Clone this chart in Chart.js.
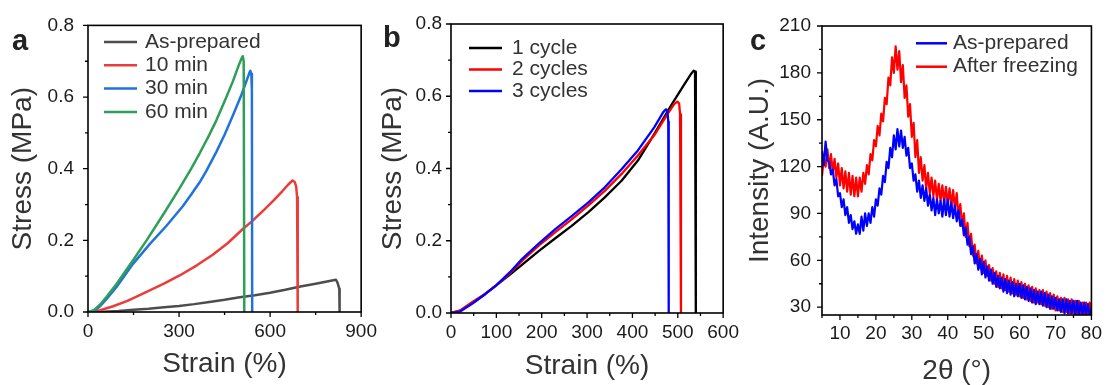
<!DOCTYPE html>
<html><head><meta charset="utf-8">
<script src="https://cdn.jsdelivr.net/npm/chart.js@4.4.1/dist/chart.umd.min.js"></script>
<style>
html,body{margin:0;padding:0;background:#fff;overflow:hidden;width:1109px;height:385px;position:relative;}
canvas{position:absolute;top:0;}
</style></head><body>
<canvas id="ca" width="385" height="385" style="left:0px"></canvas>
<canvas id="cb" width="375" height="385" style="left:372px"></canvas>
<canvas id="cc" width="369" height="392" style="left:740px"></canvas>
<script>
// ---------- Panel a: tensile curves vs freezing time ----------
const aSeriesNames = ['As-prepared', '10 min', '30 min', '60 min'];
const aAsPreparedX = [0, 50, 100, 150, 200, 250, 300, 350, 400, 450, 500, 550, 600, 650, 700, 750, 800, 817, 822, 828, 829];
const aAsPreparedY = [0, 0.001, 0.003, 0.006, 0.009, 0.013, 0.017, 0.022, 0.028, 0.034, 0.041, 0.047, 0.054, 0.062, 0.071, 0.079, 0.087, 0.090, 0.082, 0.065, 0];
const a10minX = [0, 15, 40, 83, 130, 193, 250, 302, 360, 411, 460, 512, 540, 580, 610, 640, 660, 674, 681, 686, 689, 691, 691];
const a10minY = [0, 0, 0.005, 0.016, 0.031, 0.056, 0.079, 0.102, 0.131, 0.160, 0.192, 0.233, 0.253, 0.285, 0.310, 0.337, 0.356, 0.367, 0.363, 0.350, 0.320, 0.290, 0];
const a30minX = [0, 10, 25, 40, 60, 94, 149, 204, 258, 313, 340, 368, 390, 423, 450, 477, 505, 520, 532, 535, 538, 540, 541];
const a30minY = [0, 0, 0.006, 0.016, 0.035, 0.070, 0.135, 0.190, 0.240, 0.296, 0.328, 0.362, 0.394, 0.447, 0.495, 0.548, 0.605, 0.640, 0.668, 0.673, 0.665, 0.620, 0];
const a60minX = [0, 5, 20, 40, 60, 94, 149, 193, 250, 300, 340, 368, 400, 423, 455, 477, 495, 505, 510, 513, 515];
const a60minY = [0, 0, 0.006, 0.021, 0.041, 0.078, 0.145, 0.200, 0.275, 0.343, 0.400, 0.443, 0.495, 0.535, 0.598, 0.643, 0.685, 0.706, 0.714, 0.700, 0];
const aXTicks = [0, 300, 600, 900];
const aXLabels = ['0', '300', '600', '900'];
const aXMinor = [150, 450, 750];
const aYTicks = [0, 0.2, 0.4, 0.6, 0.8];
const aYLabels = ['0.0', '0.2', '0.4', '0.6', '0.8'];
const aYMinor = [0.1, 0.3, 0.5, 0.7];

// ---------- Panel b: cycles ----------
const bSeriesNames = ['1 cycle', '2 cycles', '3 cycles'];
const b1X = [0, 20, 48, 75, 99, 130, 157, 194, 230, 266, 303, 339, 376, 412, 448, 485, 514, 530, 535, 538, 539.5, 540];
const b1Y = [0, 0.006, 0.028, 0.052, 0.076, 0.106, 0.134, 0.172, 0.207, 0.241, 0.279, 0.320, 0.366, 0.422, 0.495, 0.574, 0.632, 0.663, 0.671, 0.668, 0.640, 0];
const b2X = [0, 20, 48, 75, 99, 130, 157, 194, 230, 266, 303, 339, 376, 412, 448, 478, 492, 499, 503, 505, 507];
const b2Y = [0, 0.007, 0.031, 0.053, 0.076, 0.110, 0.145, 0.187, 0.224, 0.259, 0.298, 0.338, 0.385, 0.436, 0.492, 0.552, 0.578, 0.585, 0.580, 0.550, 0];
const b3X = [0, 20, 48, 75, 99, 130, 157, 194, 230, 266, 303, 339, 376, 412, 448, 468, 474, 477, 479, 480];
const b3Y = [0, 0.004, 0.027, 0.052, 0.076, 0.113, 0.150, 0.193, 0.232, 0.268, 0.306, 0.348, 0.398, 0.450, 0.514, 0.556, 0.564, 0.560, 0.530, 0];
const bXTicks = [0, 100, 200, 300, 400, 500, 600];
const bXLabels = ['0', '100', '200', '300', '400', '500', '600'];
const bXMinor = [50, 150, 250, 350, 450, 550];
const bYTicks = [0, 0.2, 0.4, 0.6, 0.8];
const bYLabels = ['0.0', '0.2', '0.4', '0.6', '0.8'];
const bYMinor = [0.1, 0.3, 0.5, 0.7];

// ---------- Panel c: XRD ----------
const cSeriesNames = ['As-prepared', 'After freezing'];
const cAngles = [
  5, 5.5, 6, 6.5, 7, 7.5, 8, 8.5, 9, 9.5,
  10, 10.5, 11, 11.5, 12, 12.5, 13, 13.5, 14, 14.5,
  15, 15.5, 16, 16.5, 17, 17.5, 18, 18.5, 19, 19.5,
  20, 20.5, 21, 21.5, 22, 22.5, 23, 23.5, 24, 24.5,
  25, 25.5, 26, 26.5, 27, 27.5, 28, 28.5, 29, 29.5,
  30, 30.5, 31, 31.5, 32, 32.5, 33, 33.5, 34, 34.5,
  35, 35.5, 36, 36.5, 37, 37.5, 38, 38.5, 39, 39.5,
  40, 40.5, 41, 41.5, 42, 42.5, 43, 43.5, 44, 44.5,
  45, 45.5, 46, 46.5, 47, 47.5, 48, 48.5, 49, 49.5,
  50, 50.5, 51, 51.5, 52, 52.5, 53, 53.5, 54, 54.5,
  55, 55.5, 56, 56.5, 57, 57.5, 58, 58.5, 59, 59.5,
  60, 60.5, 61, 61.5, 62, 62.5, 63, 63.5, 64, 64.5,
  65, 65.5, 66, 66.5, 67, 67.5, 68, 68.5, 69, 69.5,
  70, 70.5, 71, 71.5, 72, 72.5, 73, 73.5, 74, 74.5,
  75, 75.5, 76, 76.5, 77, 77.5, 78, 78.5, 79, 79.5,
  80];
const cAsPrepared = [
  130, 121, 136, 124, 123, 115, 118, 108, 112, 101,
  103, 94, 99, 89, 94, 84, 89, 80, 85, 77,
  83, 77, 88, 79, 90, 82, 90, 84, 94, 88,
  99, 95, 106, 102, 114, 110, 123, 119, 132, 126,
  140, 131, 144, 133, 143, 132, 139, 127, 132, 119,
  122, 111, 115, 104, 111, 100, 108, 98, 106, 95,
  102, 92, 100, 89, 99, 90, 98, 88, 99, 89,
  99, 88, 97, 87, 95, 85, 92, 82, 86, 76,
  81, 70, 75, 64, 69, 58, 64, 54, 61, 51,
  59, 49, 56, 47, 54, 45, 52, 43, 50, 42,
  49, 40, 48, 39, 47, 38, 46, 37, 45, 37,
  45, 36, 44, 35, 43, 34, 42, 33, 41, 32,
  40, 32, 40, 31, 39, 30, 38, 29, 37, 29,
  36, 28, 35, 27, 35, 26, 35, 26, 34, 26,
  34, 25, 34, 25, 33, 25, 33, 25, 32, 25,
  29];
const cAfterFreezing = [
  114, 125, 120, 131, 119, 128, 116, 125, 113, 122,
  108, 119, 106, 117, 104, 116, 102, 114, 101, 113,
  101, 113, 104, 116, 109, 121, 115, 128, 124, 137,
  133, 146, 140, 154, 149, 164, 160, 177, 172, 190,
  180, 197, 182, 194, 174, 185, 164, 172, 152, 160,
  139, 148, 126, 137, 116, 126, 111, 121, 106, 116,
  103, 113, 101, 111, 99, 109, 98, 108, 97, 107,
  96, 106, 95, 105, 93, 103, 88, 96, 82, 90,
  75, 84, 69, 77, 63, 70, 58, 66, 55, 63,
  52, 60, 50, 57, 47, 55, 45, 53, 43, 52,
  42, 51, 41, 50, 40, 49, 39, 48, 38, 47,
  37, 46, 36, 45, 35, 44, 34, 43, 33, 42,
  33, 41, 32, 41, 31, 40, 30, 39, 29, 38,
  28, 37, 28, 36, 27, 36, 27, 35, 26, 35,
  26, 34, 25, 34, 25, 33, 25, 33, 25, 33,
  28];
const cXTicks = [10, 20, 30, 40, 50, 60, 70, 80];
const cXLabels = ['10', '20', '30', '40', '50', '60', '70', '80'];
const cXMinor = [5, 15, 25, 35, 45, 55, 65, 75];
const cYTicks = [30, 60, 90, 120, 150, 180, 210];
const cYLabels = ['30', '60', '90', '120', '150', '180', '210'];
const cYMinor = [45, 75, 105, 135, 165, 195];

// ---------- helpers ----------
const FONT = "'Liberation Sans', Arial, Helvetica, sans-serif";

const decor = {
  id: 'decor',
  afterDatasetsDraw(chart, args, o) {
    const ctx = chart.ctx, ca = chart.chartArea;
    const xs = chart.scales.x, ys = chart.scales.y;
    ctx.save();
    ctx.strokeStyle = '#000';
    ctx.lineWidth = 1.6;
    ctx.strokeRect(ca.left, ca.top, ca.right - ca.left, ca.bottom - ca.top);
    ctx.beginPath();
    xs.ticks.forEach(t => { const p = xs.getPixelForValue(t.value); ctx.moveTo(p, ca.bottom); ctx.lineTo(p, ca.bottom + 5); });
    o.minorX.forEach(v => { const p = xs.getPixelForValue(v); ctx.moveTo(p, ca.bottom); ctx.lineTo(p, ca.bottom + 3); });
    ys.ticks.forEach(t => { const p = ys.getPixelForValue(t.value); ctx.moveTo(ca.left, p); ctx.lineTo(ca.left - 5, p); });
    o.minorY.forEach(v => { const p = ys.getPixelForValue(v); ctx.moveTo(ca.left, p); ctx.lineTo(ca.left - 3, p); });
    ctx.lineWidth = 1.3;
    ctx.stroke();
    // legend
    ctx.font = '21px ' + FONT;
    ctx.textBaseline = 'middle';
    ctx.textAlign = 'left';
    chart.data.datasets.forEach((ds, i) => {
      const y = o.legY + i * o.legDy;
      ctx.strokeStyle = ds.borderColor;
      ctx.lineWidth = 2.5;
      ctx.beginPath();
      ctx.moveTo(o.legX, y);
      ctx.lineTo(o.legX + o.legLen, y);
      ctx.stroke();
      ctx.fillStyle = '#333';
      ctx.fillText(ds.label, o.legTextX, y);
    });
    // panel letter
    ctx.font = 'bold 29px ' + FONT;
    ctx.textBaseline = 'alphabetic';
    ctx.fillStyle = '#222';
    ctx.fillText(o.letter, o.letterX, o.letterY);
    ctx.restore();
  }
};

function ds(label, xs, ys, color, width, order) {
  return {
    label, data: xs.map((x, i) => ({ x, y: ys[i] })),
    borderColor: color, backgroundColor: color, borderWidth: width,
    pointRadius: 0, tension: 0, fill: false, order,
    borderJoinStyle: 'round', borderCapStyle: 'butt'
  };
}

function makeChart(id, datasets, c) {
  return new Chart(document.getElementById(id), {
    type: 'line',
    data: { datasets },
    options: {
      responsive: false, animation: false, devicePixelRatio: 1, events: [],
      layout: { padding: { left: 0, top: c.top, right: c.right, bottom: 0 } },
      plugins: { legend: { display: false }, tooltip: { enabled: false }, decor: c.decor },
      scales: {
        x: {
          type: 'linear', min: c.xMin, max: c.xMax,
          grid: { display: false, drawTicks: false }, border: { display: false },
          afterBuildTicks: s => { s.ticks = c.xTicks.map(v => ({ value: v })); },
          afterFit: s => { s.height = c.xH; },
          ticks: { autoSkip: false, maxRotation: 0, padding: c.xPad, color: '#1a1a1a',
                   font: { family: FONT, size: 19 }, callback: (v, i) => c.xLabels[i] },
          title: { display: true, text: c.xTitle, color: '#333', font: { family: FONT, size: 28 },
                   padding: { top: 0, bottom: c.xTitlePad } }
        },
        y: {
          type: 'linear', min: c.yMin, max: c.yMax,
          grid: { display: false, drawTicks: false }, border: { display: false },
          afterBuildTicks: s => { s.ticks = c.yTicks.map(v => ({ value: v })); },
          afterFit: s => { s.width = c.yW; },
          ticks: { autoSkip: false, padding: c.yPad, color: '#1a1a1a',
                   font: { family: FONT, size: 19 }, callback: (v, i) => c.yLabels[i] },
          title: { display: true, text: c.yTitle, color: '#333', font: { family: FONT, size: 28 },
                   padding: { top: c.yTitlePad, bottom: 0 } }
        }
      }
    },
    plugins: [decor]
  });
}

// ---------- Panel a ----------
makeChart('ca', [
  ds(aSeriesNames[0], aAsPreparedX, aAsPreparedY, '#4d4d4d', 2.5, 0),
  ds(aSeriesNames[1], a10minX, a10minY, '#ec3b3b', 2.5, -1),
  ds(aSeriesNames[2], a30minX, a30minY, '#2272dc', 2.5, -2),
  ds(aSeriesNames[3], a60minX, a60minY, '#2f9f58', 2.5, -3)
], {
  top: 23, right: 23, xH: 73, yW: 88, xPad: 8, yPad: 14, xTitlePad: 4.2, yTitlePad: 6.2,
  xMin: 0, xMax: 900, yMin: 0, yMax: 0.8,
  xTicks: aXTicks, xLabels: aXLabels, yTicks: aYTicks, yLabels: aYLabels,
  xTitle: 'Strain (%)', yTitle: 'Stress (MPa)',
  decor: { minorX: aXMinor, minorY: aYMinor, legX: 104, legTextX: 145, legY: 42, legDy: 23.3, legLen: 33,
           letter: 'a', letterX: 12, letterY: 50 }
});

// ---------- Panel b ----------
makeChart('cb', [
  ds(bSeriesNames[0], b1X, b1Y, '#000000', 2.3, 0),
  ds(bSeriesNames[1], b2X, b2Y, '#ff0000', 2.3, -1),
  ds(bSeriesNames[2], b3X, b3Y, '#0000ff', 2.3, -2)
], {
  top: 24, right: 21, xH: 72, yW: 79, xPad: 8, yPad: 9, xTitlePad: 1.7, yTitlePad: 4.2,
  xMin: 0, xMax: 600, yMin: 0, yMax: 0.8,
  xTicks: bXTicks, xLabels: bXLabels, yTicks: bYTicks, yLabels: bYLabels,
  xTitle: 'Strain (%)', yTitle: 'Stress (MPa)',
  decor: { minorX: bXMinor, minorY: bYMinor, legX: 97, legTextX: 140, legY: 48, legDy: 21.5, legLen: 33,
           letter: 'b', letterX: 11, letterY: 47 }
});

// ---------- Panel c ----------
makeChart('cc', [
  ds(cSeriesNames[0], cAngles, cAsPrepared, '#0000ff', 2.2, 0),
  ds(cSeriesNames[1], cAngles, cAfterFreezing, '#ff0000', 2.2, 1)
], {
  top: 26, right: 13, xH: 77, yW: 82, xPad: 7, yPad: 11, xTitlePad: 4.2, yTitlePad: 3.2,
  xMin: 5, xMax: 80, yMin: 25, yMax: 210,
  xTicks: cXTicks, xLabels: cXLabels, yTicks: cYTicks, yLabels: cYLabels,
  xTitle: '2θ (°)', yTitle: 'Intensity (A.U.)',
  decor: { minorX: cXMinor, minorY: cYMinor, legX: 176, legTextX: 213, legY: 43.3, legDy: 23.4, legLen: 31,
           letter: 'c', letterX: 10, letterY: 50 }
});
</script>
</body></html>
